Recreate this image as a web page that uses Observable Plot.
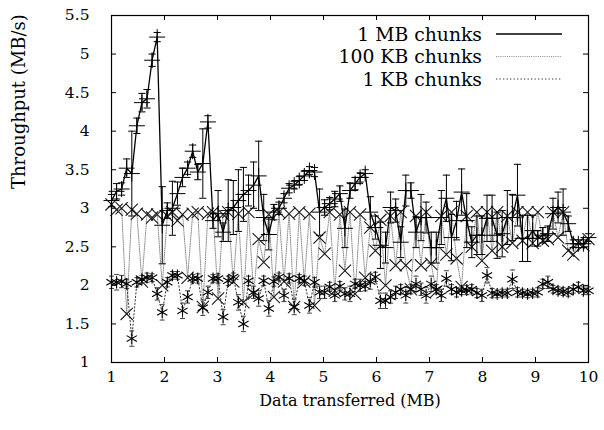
<!DOCTYPE html>
<html>
<head>
<meta charset="utf-8">
<script src="https://cdn.jsdelivr.net/npm/d3@7"></script>
<script src="https://cdn.jsdelivr.net/npm/@observablehq/plot@0.6"></script>
<style>
  html, body { margin: 0; padding: 0; background: #fff; }
  #chart { width: 604px; height: 430px; }
</style>
</head>
<body>
<div id="chart"></div>
<script>
// Data transferred (MB) at each measurement point
const xMB = [
  1.000, 1.096, 1.191, 1.287, 1.383, 1.479, 1.574, 1.670, 1.766, 1.862,
  1.957, 2.053, 2.149, 2.245, 2.340, 2.436, 2.532, 2.628, 2.723, 2.819,
  2.915, 3.011, 3.106, 3.202, 3.298, 3.394, 3.489, 3.585, 3.681, 3.777,
  3.872, 3.968, 4.064, 4.160, 4.255, 4.351, 4.447, 4.543, 4.638, 4.734,
  4.830, 4.926, 5.021, 5.117, 5.213, 5.309, 5.404, 5.500, 5.596, 5.691,
  5.787, 5.883, 5.979, 6.074, 6.170, 6.266, 6.362, 6.457, 6.553, 6.649,
  6.745, 6.840, 6.936, 7.032, 7.128, 7.223, 7.319, 7.415, 7.511, 7.606,
  7.702, 7.798, 7.894, 7.989, 8.085, 8.181, 8.277, 8.372, 8.468, 8.564,
  8.660, 8.755, 8.851, 8.947, 9.043, 9.138, 9.234, 9.330, 9.426, 9.521,
  9.617, 9.713, 9.809, 9.904, 10.000
];

// Throughput (MB/s), 1 MB chunks
const mb1 = [
  3.10, 3.22, 3.25, 3.52, 3.45, 4.07, 4.37, 4.42, 4.92, 5.22,
  2.78, 2.97, 3.00, 3.19, 3.40, 3.52, 3.74, 3.47, 3.58, 4.12,
  2.84, 2.93, 2.69, 2.97, 3.01, 3.10, 3.18, 3.23, 3.30, 3.42,
  2.88, 2.66, 2.95, 3.00, 3.13, 3.26, 3.30, 3.36, 3.42, 3.49,
  3.47, 2.95, 3.01, 3.06, 3.12, 3.19, 2.74, 3.23, 3.32, 3.40,
  3.45, 2.95, 2.75, 2.52, 2.49, 3.01, 2.97, 2.56, 3.23, 3.23,
  2.69, 2.88, 2.88, 2.49, 2.49, 2.88, 3.13, 2.62, 2.84, 3.21,
  2.84, 2.56, 2.65, 2.65, 2.87, 2.87, 2.65, 2.67, 2.88, 2.88,
  3.17, 2.61, 2.61, 2.71, 2.61, 2.65, 2.67, 2.93, 3.01, 2.95,
  2.80, 2.54, 2.54, 2.54, 2.62
];
const mb1Err = [
  0.08, 0.10, 0.08, 0.12, 0.55, 0.10, 0.12, 0.12, 0.08, 0.06,
  0.50, 0.10, 0.35, 0.15, 0.12, 0.08, 0.08, 0.10, 0.45, 0.08,
  0.10, 0.30, 0.12, 0.40, 0.35, 0.40, 0.35, 0.20, 0.30, 0.45,
  0.30, 0.20, 0.10, 0.08, 0.06, 0.06, 0.05, 0.05, 0.06, 0.05,
  0.06, 0.30, 0.10, 0.08, 0.10, 0.10, 0.25, 0.10, 0.08, 0.06,
  0.05, 0.20, 0.15, 0.30, 0.20, 0.20, 0.15, 0.20, 0.20, 0.10,
  0.20, 0.30, 0.20, 0.20, 0.20, 0.35, 0.30, 0.30, 0.25, 0.30,
  0.35, 0.20, 0.25, 0.25, 0.30, 0.30, 0.30, 0.30, 0.35, 0.30,
  0.40, 0.30, 0.30, 0.20, 0.10, 0.10, 0.10, 0.20, 0.20, 0.30,
  0.10, 0.05, 0.05, 0.05, 0.05
];

// Throughput (MB/s), 100 KB chunks
const kb100 = [
  3.05, 2.98, 3.00, 1.63, 2.98, 2.93, 2.05, 2.92, 2.88, 2.92,
  2.00, 2.90, 2.95, 2.84, 2.92, 2.10, 2.93, 2.95, 1.72, 2.93,
  2.95, 1.83, 2.92, 2.95, 2.05, 2.93, 1.78, 2.95, 1.89, 2.60,
  2.30, 2.92, 1.85, 2.95, 2.05, 2.93, 1.72, 2.95, 2.05, 2.93,
  1.74, 2.62, 2.41, 2.95, 1.93, 2.92, 2.19, 2.95, 1.89, 2.92,
  2.10, 2.75, 2.45, 2.85, 2.00, 2.90, 2.26, 2.95, 2.26, 1.95,
  2.90, 2.26, 2.95, 2.28, 1.92, 2.90, 2.40, 2.95, 2.35, 1.98,
  2.90, 2.50, 2.95, 2.32, 2.95, 2.45, 2.95, 2.50, 2.90, 2.55,
  2.95, 2.58, 2.95, 2.55, 2.95, 2.58, 2.60, 2.95, 2.62, 2.95,
  2.45, 2.40, 2.55, 2.52, 2.60
];

// Throughput (MB/s), 1 KB chunks
const kb1 = [
  2.04, 2.04, 2.05, 2.02, 1.31, 2.04, 2.08, 2.10, 2.10, 1.89,
  1.65, 2.04, 2.13, 2.13, 1.67, 1.85, 2.09, 2.09, 1.71, 1.91,
  2.09, 2.09, 1.59, 2.06, 2.11, 1.78, 1.50, 2.06, 1.91, 1.83,
  2.06, 1.70, 2.05, 2.11, 1.87, 2.09, 1.72, 2.09, 2.06, 1.74,
  2.04, 1.91, 1.91, 1.98, 1.87, 1.99, 1.89, 1.89, 2.02, 2.00,
  1.99, 2.05, 2.11, 1.80, 1.80, 1.85, 1.91, 1.95, 1.87, 1.95,
  2.02, 1.95, 1.87, 2.02, 1.95, 1.87, 2.09, 1.95, 1.91, 1.93,
  1.94, 1.95, 1.90, 1.87, 2.13, 1.90, 1.89, 1.90, 1.90, 2.08,
  1.91, 1.90, 1.89, 1.90, 1.91, 2.02, 2.04, 1.95, 1.93, 1.92,
  1.91, 1.95, 1.98, 1.93, 1.93
];
const kb1Err = [
  0.08, 0.10, 0.08, 0.06, 0.10, 0.06, 0.05, 0.06, 0.05, 0.08,
  0.10, 0.06, 0.05, 0.05, 0.10, 0.08, 0.05, 0.06, 0.10, 0.08,
  0.05, 0.06, 0.10, 0.06, 0.05, 0.10, 0.10, 0.06, 0.08, 0.10,
  0.06, 0.10, 0.06, 0.05, 0.08, 0.06, 0.10, 0.05, 0.06, 0.10,
  0.06, 0.08, 0.08, 0.06, 0.08, 0.06, 0.08, 0.10, 0.06, 0.08,
  0.06, 0.10, 0.06, 0.10, 0.10, 0.08, 0.08, 0.06, 0.10, 0.06,
  0.10, 0.08, 0.10, 0.10, 0.06, 0.08, 0.10, 0.06, 0.06, 0.05,
  0.06, 0.06, 0.06, 0.08, 0.10, 0.06, 0.05, 0.05, 0.05, 0.12,
  0.06, 0.05, 0.05, 0.05, 0.06, 0.06, 0.08, 0.05, 0.05, 0.05,
  0.05, 0.05, 0.06, 0.05, 0.05
];

const seriesNames = ["1 MB chunks", "100 KB chunks", "1 KB chunks"];
const xTicks = [1, 2, 3, 4, 5, 6, 7, 8, 9, 10];
const yTicks = [1, 1.5, 2, 2.5, 3, 3.5, 4, 4.5, 5, 5.5];
const xTitle = "Data transferred (MB)";
const yTitle = "Throughput (MB/s)";

// ---- build tables ----
const rowsMB = xMB.map((x, i) => ({x, y: mb1[i], lo: mb1[i] - mb1Err[i], hi: mb1[i] + mb1Err[i]}));
const rows100 = xMB.map((x, i) => ({x, y: kb100[i]}));
const rows1 = xMB.map((x, i) => ({x, y: kb1[i], lo: kb1[i] - kb1Err[i], hi: kb1[i] + kb1Err[i]}));

const FONT = "DejaVu Serif";
const styles = [
  {stroke: "#000", width: 1.3, dash: null},
  {stroke: "#8c8c8c", width: 1, dash: "1,1.2"},
  {stroke: "#333", width: 1, dash: "1.3,2.2"}
];

// horizontal-bar symbol for error bar caps
const capSymbol = {
  draw(context, size) {
    const r = Math.sqrt(size / Math.PI);
    context.moveTo(-r, 0);
    context.lineTo(r, 0);
  }
};

function legendMark() {
  const g = d3.create("svg:g");
  seriesNames.forEach((name, k) => {
    const y = 34 + k * 22.5;
    g.append("text")
      .attr("x", 482).attr("y", y).attr("dy", "0.35em")
      .attr("text-anchor", "end").attr("fill", "#000")
      .attr("font-family", FONT).attr("font-size", 18.8)
      .text(name);
    g.append("line")
      .attr("x1", 496).attr("x2", 562).attr("y1", y).attr("y2", y)
      .attr("stroke", styles[k].stroke)
      .attr("stroke-width", styles[k].width)
      .attr("stroke-dasharray", styles[k].dash);
  });
  return g.node();
}

const chart = Plot.plot({
  width: 604,
  height: 430,
  marginLeft: 111,
  marginRight: 16,
  marginTop: 15,
  marginBottom: 68,
  x: {domain: [1, 10]},
  y: {domain: [1, 5.5]},
  style: {fontSize: "15px", fontFamily: FONT, background: "#fff", color: "#000", overflow: "visible"},
  marks: [
    Plot.axisX(xTicks, {tickSize: 0, tickPadding: 8, fontSize: 15.5, fontFamily: FONT, label: null, tickFormat: d => String(d)}),
    Plot.axisY(yTicks, {tickSize: 0, tickPadding: 22, fontSize: 15.5, fontFamily: FONT, label: null, tickFormat: d => String(d)}),
    Plot.tickX(xTicks, {insetTop: 342, stroke: "#000", strokeWidth: 1}),
    Plot.tickX(xTicks, {insetBottom: 342, stroke: "#000", strokeWidth: 1}),
    Plot.tickY(yTicks, {insetRight: 472, stroke: "#000", strokeWidth: 1}),
    Plot.tickY(yTicks, {insetLeft: 472, stroke: "#000", strokeWidth: 1}),
    Plot.text([xTitle], {frameAnchor: "bottom", dy: 43, fontSize: 16, fontFamily: FONT, fill: "#000"}),
    Plot.text([yTitle], {frameAnchor: "left", dx: -92, rotate: -90, fontSize: 18, fontFamily: FONT, fill: "#000"}),

    Plot.line(rows100, {x: "x", y: "y", stroke: styles[1].stroke, strokeWidth: styles[1].width, strokeDasharray: styles[1].dash}),
    Plot.dot(rows100, {x: "x", y: "y", symbol: "times", r: 5.6, stroke: "#1a1a1a", fill: "none", strokeWidth: 1.1}),

    Plot.ruleX(rows1, {x: "x", y1: "lo", y2: "hi", stroke: "#444", strokeWidth: 1, strokeDasharray: "1,1.5"}),
    Plot.dot(rows1, {x: "x", y: "hi", symbol: capSymbol, r: 2.5, stroke: "#444", fill: "none", strokeWidth: 1}),
    Plot.dot(rows1, {x: "x", y: "lo", symbol: capSymbol, r: 2.5, stroke: "#444", fill: "none", strokeWidth: 1}),
    Plot.line(rows1, {x: "x", y: "y", stroke: styles[2].stroke, strokeWidth: styles[2].width, strokeDasharray: styles[2].dash}),
    Plot.dot(rows1, {x: "x", y: "y", symbol: "asterisk", r: 5.6, stroke: "#000", fill: "none", strokeWidth: 1.1}),

    Plot.ruleX(rowsMB, {x: "x", y1: "lo", y2: "hi", stroke: "#000", strokeWidth: 1}),
    Plot.dot(rowsMB, {x: "x", y: "hi", symbol: capSymbol, r: 3.6, stroke: "#000", fill: "none", strokeWidth: 1}),
    Plot.dot(rowsMB, {x: "x", y: "lo", symbol: capSymbol, r: 3.6, stroke: "#000", fill: "none", strokeWidth: 1}),
    Plot.line(rowsMB, {x: "x", y: "y", stroke: styles[0].stroke, strokeWidth: styles[0].width}),
    Plot.dot(rowsMB, {x: "x", y: "y", symbol: "plus", r: 5.2, stroke: "#000", fill: "none", strokeWidth: 1}),

    Plot.frame({stroke: "#000", strokeWidth: 1.2}),
    legendMark
  ]
});

document.getElementById("chart").appendChild(chart);
</script>
</body>
</html>
